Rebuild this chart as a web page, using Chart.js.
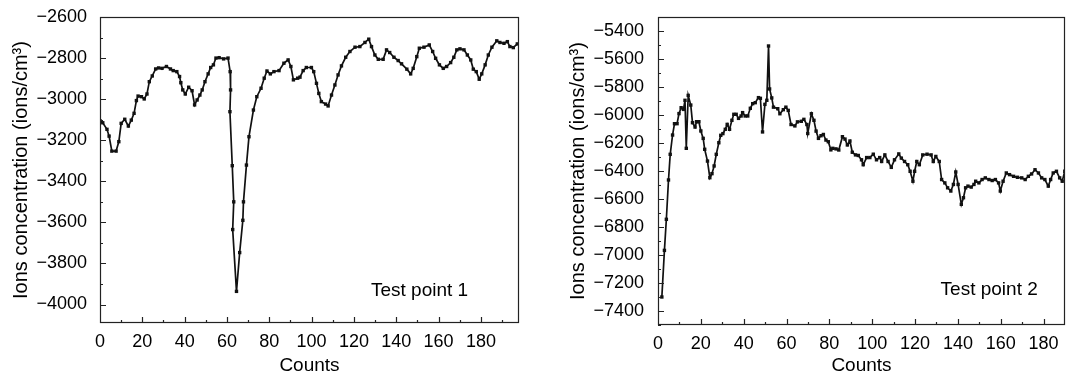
<!DOCTYPE html>
<html>
<head>
<meta charset="utf-8">
<script src="https://cdn.jsdelivr.net/npm/chart.js@4.4.1/dist/chart.umd.min.js"></script>
<style>
  body { margin: 0; background: #fff; }
  .box { position: absolute; top: 0; }
</style>
</head>
<body>
<div class="box" style="left:0"><canvas id="chartA" width="530" height="381"></canvas></div>
<div class="box" style="left:540px"><canvas id="chartB" width="529" height="381"></canvas></div>
<script>
// test point 1
var countsA = [0, 1.3, 3.3, 4.3, 5.6, 7.6, 8.9, 10.0, 11.7, 13.4, 14.8, 16.1, 17.2, 18.0, 19.6, 20.9,
  22.2, 23.3, 24.7, 26.3, 27.7, 29.3, 31.4, 33.3, 34.6, 36.3, 37.6, 38.2, 39.1, 40.3, 41.9, 43.5,
  44.7, 45.9, 47.2, 48.3, 49.6, 51.1, 52.3, 53.6, 54.8, 56.3, 58.4, 60.5, 61.5, 61.7, 61.4, 62.5,
  63.2, 62.7, 64.5, 66.0, 67.5, 67.8, 69.2, 70.4, 72.5, 74.1, 76.1, 77.6, 78.9, 80.5, 82.2, 84.6,
  86.9, 88.9, 90.2, 91.4, 93.4, 94.5, 96.0, 97.5, 99.9, 101.0, 102.3, 103.4, 104.6, 106.6, 107.8, 109.4,
  111.0, 112.5, 114.1, 116.1, 118.1, 120.5, 122.8, 125.2, 127.0, 128.3, 129.9, 131.5, 133.8, 135.4, 136.9,
  138.9, 140.9, 142.5, 145.0, 146.8, 148.0, 149.7, 150.9, 153.1, 155.6, 157.2, 158.6, 160.4, 162.2, 163.8,
  165.7, 167.2, 168.6, 170.1, 172.0, 173.6, 175.2, 176.4, 177.8, 179.2, 180.4, 182.0, 183.5, 185.2, 187.5,
  189.0, 190.9, 192.5, 193.7, 195.3, 197.2];
var ionsA = [-3105, -3115, -3147, -3180, -3253, -3253, -3207, -3118, -3098, -3131, -3102, -3069, -3007, -2985, -2988, -2999,
  -2975, -2915, -2887, -2853, -2848, -2850, -2841, -2853, -2861, -2866, -2890, -2920, -2955, -2975, -2942, -2959,
  -3028, -3004, -2980, -2955, -2915, -2877, -2846, -2833, -2800, -2798, -2804, -2800, -2866, -2955, -3061, -3324,
  -3500, -3635, -3936, -3747, -3590, -3500, -3321, -3183, -3053, -2988, -2947, -2898, -2863, -2877, -2866, -2861,
  -2825, -2809, -2841, -2906, -2898, -2893, -2861, -2846, -2846, -2866, -2923, -2972, -3012, -3024, -3033, -2980,
  -2931, -2882, -2838, -2796, -2768, -2747, -2744, -2724, -2708, -2744, -2785, -2806, -2806, -2760, -2773,
  -2796, -2812, -2828, -2854, -2877, -2850, -2793, -2752, -2747, -2736, -2768, -2801, -2833, -2850, -2841,
  -2822, -2796, -2760, -2755, -2760, -2785, -2809, -2854, -2866, -2903, -2877, -2833, -2785, -2747, -2716,
  -2724, -2728, -2720, -2744, -2749, -2731];

// test point 2
var countsB = [1.8, 3.0, 3.9, 4.9, 5.7, 6.8, 7.7, 8.9, 9.8, 10.8, 11.9, 12.6, 13.2, 14.1, 15.3, 16.1,
  17.3, 18.0, 19.1, 20.0, 21.1, 21.8, 23.1, 24.2, 25.2, 26.2, 27.2, 28.4, 29.3, 30.3, 31.4, 32.3,
  33.4, 34.5, 35.4, 36.5, 37.6, 38.8, 39.5, 40.7, 41.9, 43.1, 44.2, 45.4, 46.9, 47.8, 48.8, 49.9,
  50.8, 51.6, 52.1, 53.1, 53.9, 55.9, 56.9, 58.5, 59.7, 60.8, 62.1, 63.9, 65.1, 66.9, 68.1, 69.5,
  69.9, 71.6, 72.8, 73.8, 74.9, 76.1, 77.2, 78.4, 79.5, 80.7, 81.6, 83.1, 84.4, 86.1, 87.3, 88.4,
  89.6, 90.7, 92.2, 93.5, 95.0, 95.8, 97.4, 98.9, 100.5, 102.0, 103.5, 104.4, 105.9, 107.4, 108.9, 110.4,
  112.4, 113.6, 115.1, 116.6, 117.7, 119.0, 119.8, 120.8, 122.0, 123.6, 125.6, 127.5, 128.5, 129.7, 131.3,
  132.4, 133.9, 135.2, 136.7, 137.9, 139.0, 140.1, 141.6, 142.6, 143.6, 144.7, 146.2, 147.5, 148.3, 149.8,
  151.3, 152.8, 154.5, 156.0, 157.5, 159.0, 159.8, 161.1, 162.6, 164.1, 166.0, 167.8, 169.8, 171.4, 172.9,
  174.4, 176.0, 177.6, 179.1, 180.6, 182.2, 183.3, 184.5, 186.0, 187.5, 188.7, 189.9];
var ionsB = [-7300, -6967, -6745, -6464, -6281, -6143, -6062, -6062, -5990, -5948, -5960, -5895, -6238, -5860, -5929, -6055,
  -6086, -6048, -6048, -6114, -6167, -6245, -6329, -6448, -6419, -6364, -6281, -6198, -6145, -6133, -6102, -6067,
  -6102, -6038, -5995, -5995, -6024, -6007, -5983, -6007, -6007, -5952, -5919, -5912, -5876, -5881, -6121, -5924,
  -5895, -5507, -5814, -5878, -5944, -5955, -5991, -5962, -5944, -5967, -6068, -6078, -6049, -6045, -6031, -6068,
  -6132, -5991, -6038, -6115, -6167, -6148, -6139, -6179, -6191, -6249, -6238, -6242, -6250, -6155, -6172, -6214,
  -6186, -6266, -6285, -6289, -6320, -6355, -6304, -6304, -6280, -6320, -6304, -6332, -6285, -6332, -6374, -6320,
  -6278, -6308, -6332, -6355, -6402, -6473, -6402, -6332, -6355, -6285, -6280, -6285, -6332, -6296, -6332,
  -6461, -6485, -6520, -6543, -6496, -6407, -6496, -6638, -6591, -6520, -6508, -6515, -6496, -6473, -6485,
  -6461, -6449, -6461, -6468, -6461, -6485, -6543, -6473, -6414, -6426, -6438, -6445, -6449, -6461, -6438,
  -6421, -6391, -6414, -6449, -6461, -6508, -6461, -6414, -6402, -6449, -6473, -6402];

var xTicks = [0, 20, 40, 60, 80, 100, 120, 140, 160, 180];
var yTicksA = [-2600, -2800, -3000, -3200, -3400, -3600, -3800, -4000];
var yTicksB = [-5400, -5600, -5800, -6000, -6200, -6400, -6600, -6800, -7000, -7200, -7400];

var FONT = 'Arial, "Liberation Sans", sans-serif';

// caja alrededor del grafico, ticks hacia dentro y el texto "Test point"
var frame = {
    id: 'frame',
    afterDraw: function (chart, args, opts) {
        var ctx = chart.ctx, a = chart.chartArea;
        var sx = chart.scales.x, sy = chart.scales.y;
        ctx.save();
        ctx.strokeStyle = '#222';
        ctx.lineWidth = 1.2;
        ctx.strokeRect(a.left + 0.5, a.top + 0.5, a.right - a.left - 1, a.bottom - a.top - 1);
        ctx.beginPath();
        for (var v = 10; v < sx.max; v += 10) {
            var px = Math.round(sx.getPixelForValue(v)) + 0.5;
            ctx.moveTo(px, a.bottom);
            ctx.lineTo(px, a.bottom - (v % 20 === 0 ? 6 : 3));
        }
        for (var w = Math.ceil(sy.min / 100) * 100; w <= sy.max; w += 100) {
            var py = Math.round(sy.getPixelForValue(w)) + 0.5;
            ctx.moveTo(a.left, py);
            ctx.lineTo(a.left + (w % 200 === 0 ? 6 : 3), py);
        }
        ctx.stroke();
        ctx.fillStyle = '#000';
        ctx.font = '19px ' + FONT;
        ctx.textAlign = 'center';
        ctx.textBaseline = 'middle';
        ctx.fillText(opts.text, sx.getPixelForValue(opts.x), sy.getPixelForValue(opts.y));
        ctx.restore();
    }
};

function crea_grafico(elementId, counts, ions, yTicks, xMax, yMin, yMax, yWidth, xHeight, tickPad, titlePad, note) {
    var points = counts.map(function (c, i) { return {x: c, y: ions[i]}; });
    return new Chart(document.getElementById(elementId), {
        type: 'line',
        data: {
            datasets: [{
                data: points,
                borderColor: '#111',
                borderWidth: 1.7,
                backgroundColor: '#111',
                pointStyle: 'rect',
                pointRadius: 2.4,
                pointBorderWidth: 0,
                tension: 0
            }]
        },
        options: {
            responsive: false,
            animation: false,
            events: [],
            layout: {padding: {top: 17, right: note.right, left: 0, bottom: 0}},
            plugins: {legend: {display: false}, tooltip: {enabled: false}, frame: note},
            scales: {
                x: {
                    type: 'linear', min: 0, max: xMax,
                    afterFit: function (s) { s.height = xHeight; s.paddingLeft = 0; s.paddingRight = 0; },
                    afterBuildTicks: function (s) { s.ticks = xTicks.map(function (v) { return {value: v}; }); },
                    grid: {display: false, drawTicks: false},
                    border: {display: false},
                    ticks: {color: '#000', font: {family: FONT, size: 18}, padding: 8, maxRotation: 0,
                        callback: function (v) { return String(v); }},
                    title: {display: true, text: 'Counts', color: '#000', font: {family: FONT, size: 19},
                        padding: {top: 0, bottom: 4}}
                },
                y: {
                    type: 'linear', min: yMin, max: yMax,
                    afterFit: function (s) { s.width = yWidth; s.paddingTop = 0; s.paddingBottom = 0; },
                    afterBuildTicks: function (s) { s.ticks = yTicks.map(function (v) { return {value: v}; }); },
                    grid: {display: false, drawTicks: false},
                    border: {display: false},
                    ticks: {color: '#000', font: {family: FONT, size: 18}, padding: tickPad,
                        callback: function (v) { return String(v).replace('-', '\u2212'); }},
                    title: {display: true, text: 'Ions concentration (ions/cm\u00b3)', color: '#000',
                        font: {family: FONT, size: 20}, padding: {top: titlePad, bottom: 0}}
                }
            }
        },
        plugins: [frame]
    });
}

crea_grafico('chartA', countsA, ionsA, yTicksA, 198, -4090, -2600, 100, 58, 13, 9,
    {text: 'Test point 1', x: 151, y: -3935, right: 11});
crea_grafico('chartB', countsB, ionsB, yTicksB, 190, -7500, -5300, 118, 56, 14, 26,
    {text: 'Test point 2', x: 154.6, y: -7246, right: 0});
</script>
</body>
</html>
